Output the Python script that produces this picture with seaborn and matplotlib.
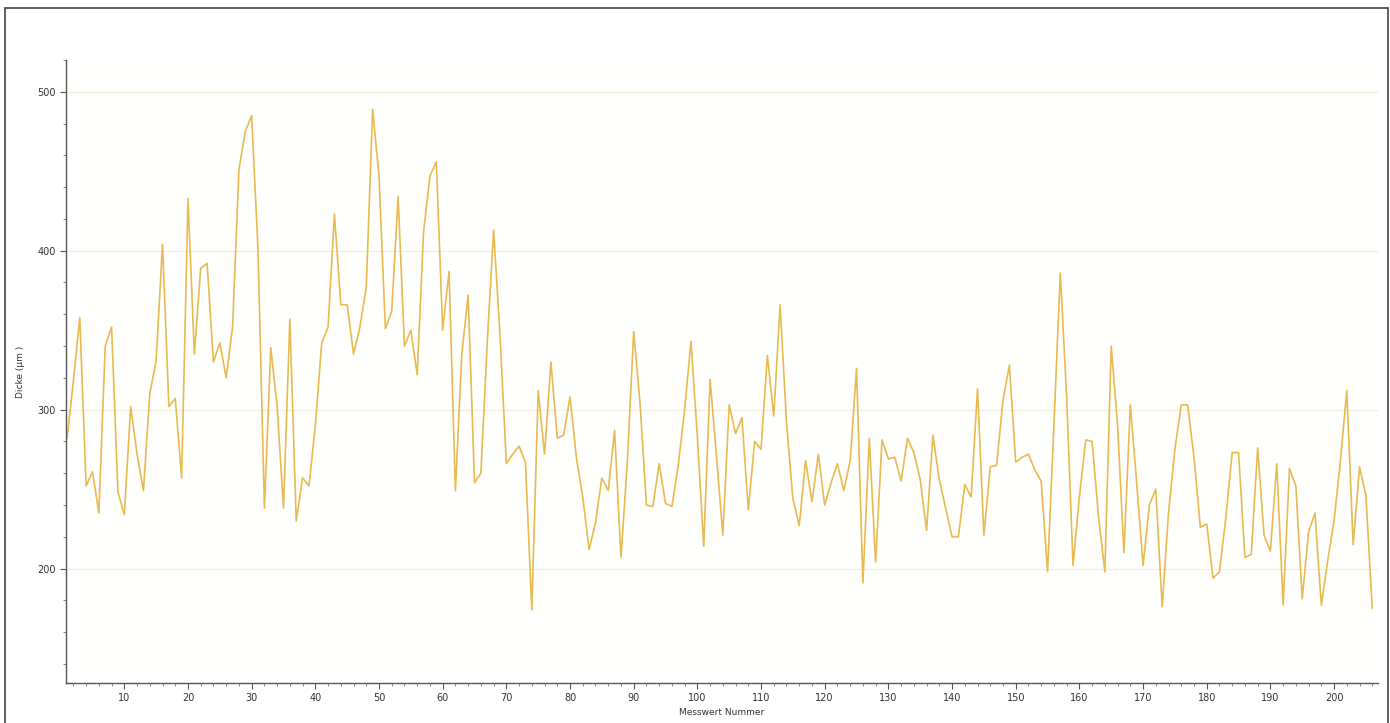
import numpy as np
import pandas as pd
import matplotlib
matplotlib.use("Agg")
import matplotlib.pyplot as plt
from matplotlib.ticker import MultipleLocator
from matplotlib.patches import Rectangle
import seaborn as sns

# ---- data ----
dicke = [
    282, 318, 358, 252, 261, 235, 340, 352, 248, 234,
    302, 272, 249, 310, 331, 404, 302, 307, 257, 433,
    335, 389, 392, 330, 342, 320, 352, 451, 475, 485,
    400, 238, 339, 302, 238, 357, 230, 257, 252, 290,
    342, 352, 423, 366, 366, 335, 352, 377, 489, 447,
    351, 362, 434, 340, 350, 322, 412, 447, 456, 350,
    387, 249, 335, 372, 254, 260, 342, 413, 347, 266,
    272, 277, 267, 174, 312, 272, 330, 282, 284, 308,
    270, 245, 212, 229, 257, 249, 287, 207, 267, 349,
    304, 240, 239, 266, 241, 239, 265, 300, 343, 283,
    214, 319, 271, 221, 303, 285, 295, 237, 280, 275,
    334, 296, 366, 292, 244, 227, 268, 242, 272, 240,
    254, 266, 249, 268, 326, 191, 282, 204, 281, 269,
    270, 255, 282, 273, 256, 224, 284, 256, 238, 220,
    220, 253, 245, 313, 221, 264, 265, 306, 328, 267,
    270, 272, 262, 255, 198, 290, 386, 308, 202, 245,
    281, 280, 233, 198, 340, 290, 210, 303, 254, 202,
    240, 250, 176, 235, 275, 303, 303, 270, 226, 228,
    194, 198, 232, 273, 273, 207, 209, 276, 221, 211,
    266, 177, 263, 252, 181, 223, 235, 177, 205, 230,
    268, 312, 215, 264, 246, 175,
]
messwert = list(range(1, len(dicke) + 1))
x_ticks = list(range(10, 201, 10))
y_ticks = [200, 300, 400, 500]

df = pd.DataFrame({"Messwert Nummer": messwert, "Dicke": dicke})

sns.set_theme(style="white")
plt.rcParams["font.family"] = ["DejaVu Sans"]

fig = plt.figure(figsize=(13.9, 7.23), dpi=100)
fig.patch.set_facecolor("white")
ax = fig.add_axes([66 / 1390, 1 - 683 / 723, (1378 - 66) / 1390, (683 - 60) / 723])
ax.set_facecolor("#fffffd")

sns.lineplot(data=df, x="Messwert Nummer", y="Dicke", ax=ax,
             color="#e9ba50", linewidth=1.2)

ax.set_xlim(0.84, 206.9)
ax.set_ylim(128, 520)

ax.set_xticks(x_ticks)
ax.set_yticks(y_ticks)
ax.xaxis.set_minor_locator(MultipleLocator(2))
ax.yaxis.set_minor_locator(MultipleLocator(20))

for side in ["top", "right"]:
    ax.spines[side].set_visible(False)
for side in ["left", "bottom"]:
    ax.spines[side].set_color("#555555")
    ax.spines[side].set_linewidth(1.0)

ax.tick_params(axis="both", which="major", direction="out", length=4,
               width=0.8, color="#555555", labelsize=7, labelcolor="#333333",
               bottom=True, left=True)
ax.tick_params(axis="both", which="minor", direction="out", length=2,
               width=0.6, color="#777777", bottom=True, left=True)

ax.yaxis.grid(True, which="major", color="#f3efdf", linewidth=0.9)
ax.xaxis.grid(False)

ax.set_xlabel("Messwert Nummer", fontsize=6.5, color="#333333", labelpad=3)
ax.set_ylabel("Dicke (µm )", fontsize=6.5, color="#333333", labelpad=9)

# outer frame of the report panel
fig.patches.append(Rectangle((5 / 1390, -0.01), (1388 - 5) / 1390, 1 - 8 / 723 + 0.01,
                             transform=fig.transFigure, fill=False,
                             edgecolor="#444444", linewidth=1.2))

fig.savefig("out.png", dpi=100)
